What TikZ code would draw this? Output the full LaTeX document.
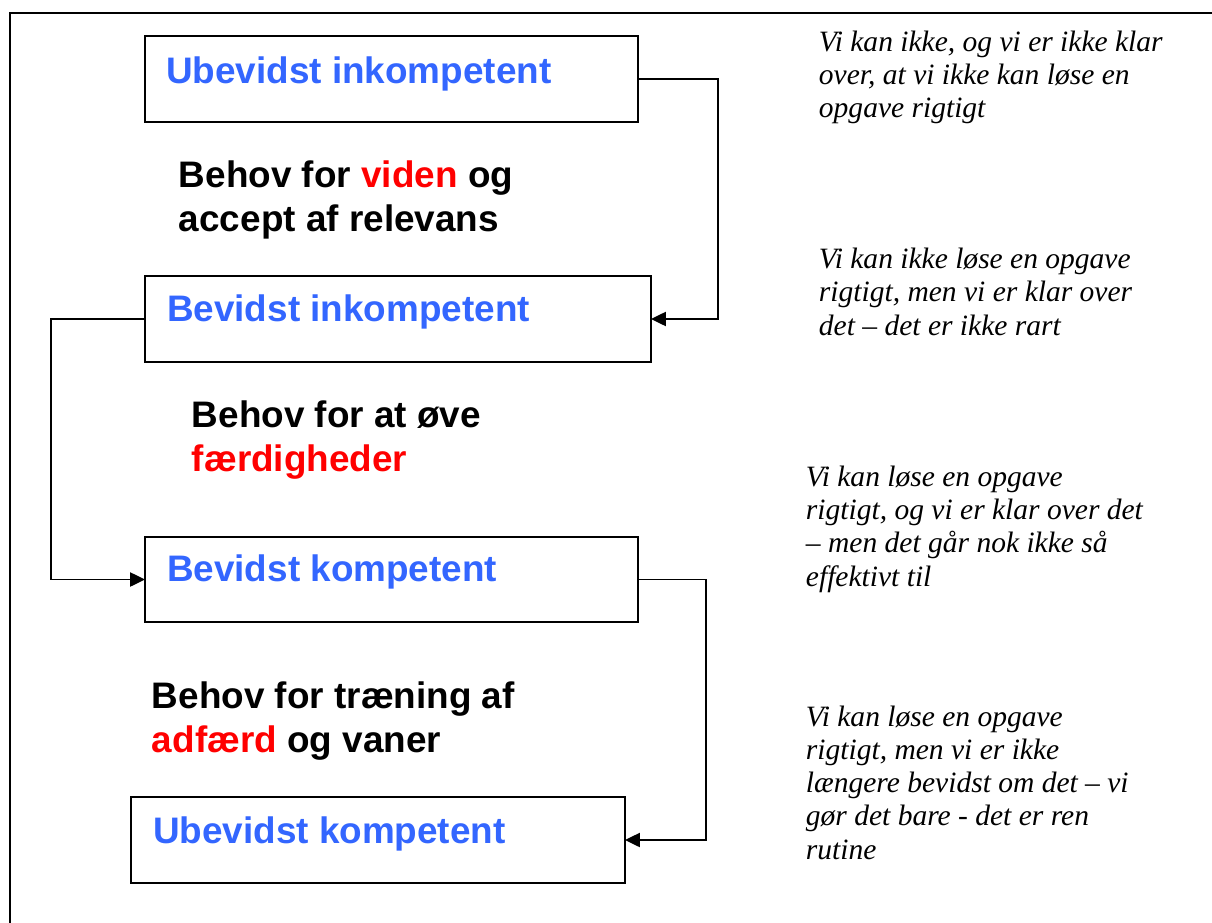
\documentclass[tikz,border=0pt]{standalone}
\usepackage{fontspec}
\setmainfont{Liberation Serif}
\setsansfont{Liberation Sans}
\usetikzlibrary{calc}
\usetikzlibrary{arrows.meta}
\definecolor{titleblue}{RGB}{51,102,255}
\begin{document}
\begin{tikzpicture}[>={Triangle[length=8.5pt,width=8pt]}, x=0.02cm, y=-0.02cm, line width=1.1pt]
	\tikzset{box/.style={draw, rectangle, inner sep=0pt, outer sep=0pt, minimum height=1.71cm}}
	\tikzset{title/.style={anchor=base west, inner sep=0pt, text=titleblue, font=\sffamily\bfseries\fontsize{21}{25}\selectfont}}
	\tikzset{need/.style={anchor=base west, inner sep=0pt, align=left, font=\sffamily\bfseries\fontsize{21}{24.7}\selectfont}}
	\tikzset{note/.style={anchor=base west, inner sep=0pt, align=left, font=\itshape\fontsize{16.8}{18.8}\selectfont}}
	\useasboundingbox (0,0) rectangle (1212,922);
	\draw (10,13) rectangle (1240,950);
	% the four steps
	\node[box, minimum width=9.86cm] (UI) at (391.5,79) {};
	\node[box, minimum width=10.12cm] (BI) at (398,319) {};
	\node[box, minimum width=9.86cm] (BK) at (391.5,579.5) {};
	\node[box, minimum width=9.88cm] (UK) at (378,840) {};
	\node[title] (UIt) at ($(UI.north west)+(20,47)$) {Ubevidst inkompetent};
	\node[title] (BIt) at ($(BI.north west)+(21,45)$) {Bevidst inkompetent};
	\node[title] (BKt) at ($(BK.north west)+(21,45)$) {Bevidst kompetent};
	\node[title] (UKt) at ($(UK.north west)+(21,46)$) {Ubevidst kompetent};
	% needs between the steps (placed at the baseline of the last line)
	\node[need] (N1) at (178,231) {Behov for \textcolor{red}{viden} og\\accept af relevans};
	\node[need] (N2) at (191,471) {Behov for at øve\\\textcolor{red}{færdigheder}};
	\node[need] (N3) at (151,752) {Behov for træning af\\\textcolor{red}{adfærd} og vaner};
	% notes
	\node[note] (T1) at (818,118) {Vi kan ikke, og vi er ikke klar\\over, at vi ikke kan løse en\\opgave rigtigt};
	\node[note] (T2) at (818,335) {Vi kan ikke løse en opgave\\rigtigt, men vi er klar over\\det – det er ikke rart};
	\node[note] (T3) at (805,586) {Vi kan løse en opgave\\rigtigt, og vi er klar over det\\– men det går nok ikke så\\effektivt til};
	\node[note] (T4) at (805,859) {Vi kan løse en opgave\\rigtigt, men vi er ikke\\længere bevidst om det – vi\\gør det bare - det er ren\\rutine};
	% connectors
	\draw[->] (UI.east) -- ++(80,0) |- (BI.east);
	\draw[->] (BI.west) -- ++(-94,0) |- (BK.west);
	\draw[->] (BK.east) -- ++(68,0) |- (UK.east);
\end{tikzpicture}
\end{document}
